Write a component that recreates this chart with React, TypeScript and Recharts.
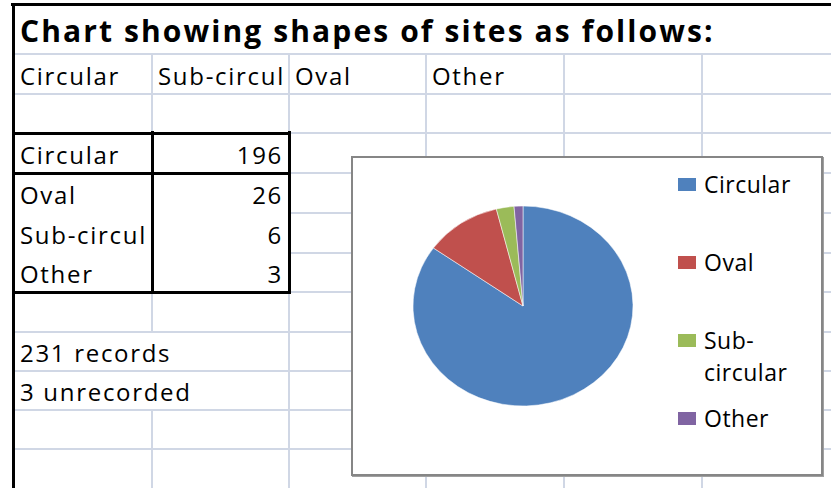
import React from "react";
import { PieChart, Pie, Cell, Legend } from "recharts";

const title = "Chart showing shapes of sites as follows:";
const headerLabels = ["Circular", "Sub-circul", "Oval", "Other"];
const tableLabels = ["Circular", "Oval", "Sub-circul", "Other"];
const categories = ["Circular", "Oval", "Sub-circular", "Other"];
const counts = [196, 26, 6, 3];
const notes = ["231 records", "3 unrecorded"];
const colors = ["#4F81BD", "#C0504D", "#9BBB59", "#8064A2"];

const pieData = categories.map((name, i) => ({ name, value: counts[i] }));

const colX = [14, 152, 289, 426, 564, 702, 840];
const rowY = [5, 54, 94, 133, 173, 213, 253, 292, 332, 371, 410, 449, 488];
const GRID = "#D0D7E5";
const FONT = "'Open Sans', sans-serif";

const hLine = (key: string, x1: number, x2: number, y: number, color = GRID, w = 2) => (
  <div key={key} style={{ position: "absolute", left: x1, top: y - w / 2, width: x2 - x1, height: w, background: color }} />
);
const vLine = (key: string, x: number, y1: number, y2: number, color = GRID, w = 2) => (
  <div key={key} style={{ position: "absolute", left: x - w / 2, top: y1, width: w, height: y2 - y1, background: color }} />
);

const cellText = (key: string, col: number, row: number, text: string, align: "left" | "right" = "left") => {
  const bottom = rowY[row + 1];
  const style: React.CSSProperties = {
    position: "absolute",
    top: bottom - 9 - 21.3,
    height: 24,
    lineHeight: "24px",
    fontSize: 24,
    letterSpacing: 1.7,
    fontFamily: FONT,
    color: "#000",
    whiteSpace: "nowrap",
  };
  if (align === "left") style.left = colX[col] + 6;
  else style.right = 831 - (colX[col + 1] - 6);
  return (
    <div key={key} style={style}>
      {text}
    </div>
  );
};

const LegendContent = () => (
  <div style={{ fontFamily: FONT, fontSize: 23, color: "#000" }}>
    {categories.map((c, i) => (
      <div key={c} style={{ display: "flex", alignItems: "flex-start", height: 78 }}>
        <div style={{ width: 18, height: 13, background: colors[i], marginTop: 9, marginRight: 8, flex: "none" }} />
        <div style={{ lineHeight: "31.7px", width: 110, letterSpacing: 0.5 }}>
          {c === "Sub-circular" ? (
            <>
              Sub-
              <br />
              circular
            </>
          ) : (
            c
          )}
        </div>
      </div>
    ))}
  </div>
);

export default function App() {
  const lines: React.ReactNode[] = [];
  for (let r = 1; r < rowY.length - 1; r++) {
    const y = rowY[r];
    const x1 = y === 213 || y === 253 ? colX[2] : colX[0];
    lines.push(hLine("h" + r, x1, 831, y));
  }
  for (let c = 1; c < colX.length - 1; c++) {
    const x = colX[c];
    if (c === 1) {
      lines.push(vLine("v1a", x, rowY[1], rowY[8]));
      lines.push(vLine("v1b", x, rowY[10], 488));
    } else {
      lines.push(vLine("v" + c, x, rowY[1], 488));
    }
  }
  const tb: React.ReactNode[] = [
    hLine("tb1", 12, 291, 133, "#000", 3),
    hLine("tb2", 12, 291, 173, "#000", 3),
    hLine("tb3", 12, 291, 292, "#000", 3),
    vLine("tb4", 152, 131, 294, "#000", 3),
    vLine("tb5", 289, 131, 294, "#000", 3),
  ];

  return (
    <div style={{ position: "absolute", left: 0, top: 0, width: 831, height: 488, background: "#fff", overflow: "hidden" }}>
      <style>{`.pie-ellipse .recharts-pie { transform: scaleX(1.1); transform-origin: 170px 148px; }`}</style>
      {lines}
      {tb}
      {hLine("ob1", 11, 831, 4.5, "#000", 3)}
      {vLine("ob2", 13, 3, 488, "#000", 3)}
      <div style={{ position: "absolute", left: 20, top: 16, height: 30, lineHeight: "30px", fontSize: 30, letterSpacing: 2.1, fontWeight: 700, fontFamily: FONT, whiteSpace: "nowrap", color: "#000" }}>
        {title}
      </div>
      {headerLabels.map((t, i) => cellText("hd" + i, i, 1, t))}
      {tableLabels.map((t, i) => cellText("tl" + i, 0, 3 + i, t))}
      {counts.map((v, i) => cellText("tv" + i, 1, 3 + i, String(v), "right"))}
      {notes.map((t, i) => cellText("nt" + i, 0, 8 + i, t))}
      <div
        className="pie-ellipse"
        style={{
          position: "absolute",
          left: 351,
          top: 156,
          width: 472,
          height: 320,
          boxSizing: "border-box",
          border: "2px solid #868686",
          boxShadow: "1px 1px 0 #a0a0a0",
          background: "#fff",
        }}
      >
        <PieChart width={468} height={316} margin={{ top: 0, right: 0, bottom: 0, left: 0 }}>
          <Pie
            data={pieData}
            dataKey="value"
            nameKey="name"
            cx={170}
            cy={148}
            outerRadius={100}
            startAngle={90}
            endAngle={-270}
            stroke="#ffffff"
            strokeWidth={0.5}
            isAnimationActive={false}
          >
            {pieData.map((d, i) => (
              <Cell key={d.name} fill={colors[i]} />
            ))}
          </Pie>
          <Legend
            layout="vertical"
            align="right"
            verticalAlign="top"
            content={() => <LegendContent />}
            wrapperStyle={{ position: "absolute", left: 325, top: 10.8, width: 140 }}
          />
        </PieChart>
      </div>
    </div>
  );
}
